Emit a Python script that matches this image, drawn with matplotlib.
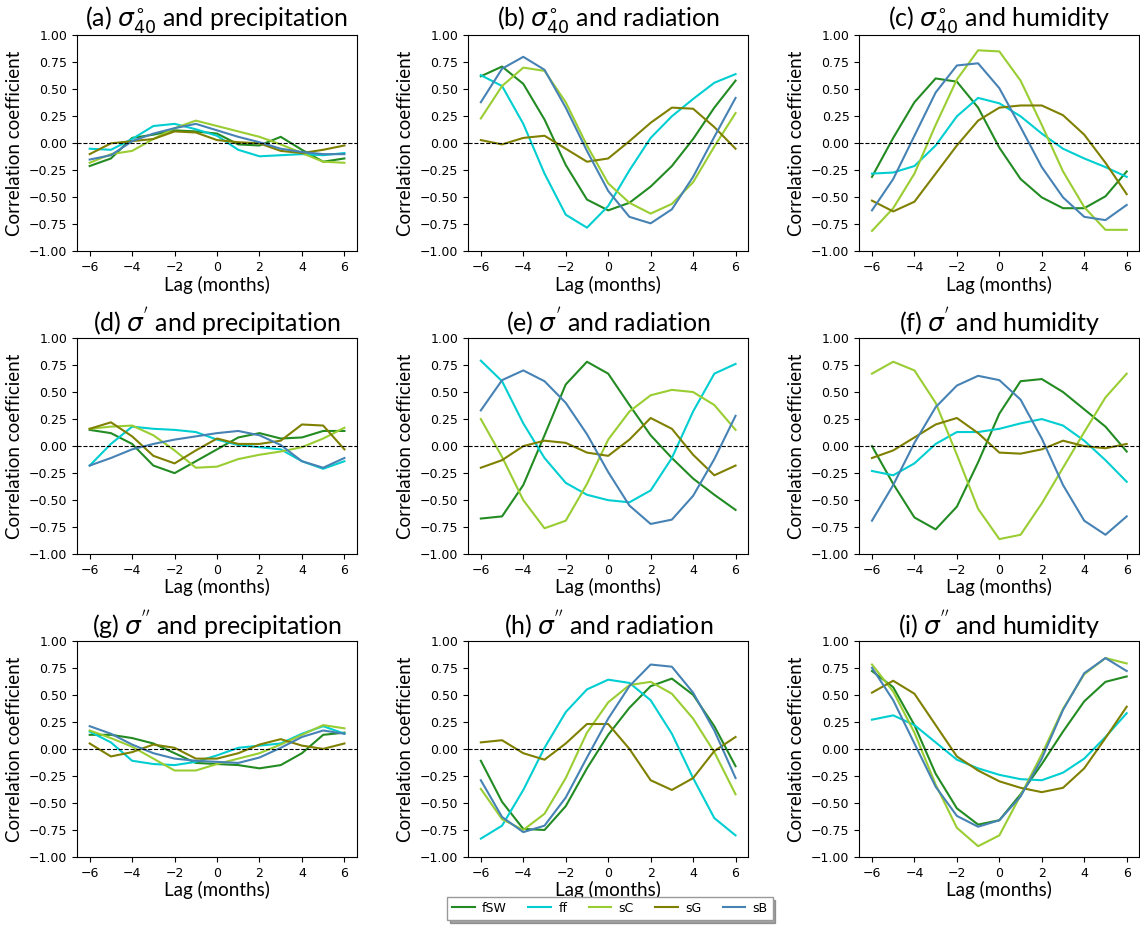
import numpy as np
import matplotlib
matplotlib.use('Agg')
import matplotlib.pyplot as plt

lags = np.arange(-6, 7)
names = ['fSW', 'ff', 'sC', 'sG', 'sB']
colors = ['forestgreen', 'darkturquoise', 'yellowgreen', 'olive', 'steelblue']

titles = [
    r'(a) $\sigma^{\circ}_{40}$ and precipitation',
    r'(b) $\sigma^{\circ}_{40}$ and radiation',
    r'(c) $\sigma^{\circ}_{40}$ and humidity',
    r"(d) $\sigma^{'}$ and precipitation",
    r"(e) $\sigma^{'}$ and radiation",
    r"(f) $\sigma^{'}$ and humidity",
    r"(g) $\sigma^{''}$ and precipitation",
    r"(h) $\sigma^{''}$ and radiation",
    r"(i) $\sigma^{''}$ and humidity",
]

# panel (a)
a_fSW = [-0.21, -0.14, 0.05, 0.08, 0.12, 0.11, 0.09, -0.01, -0.02, 0.06, -0.06, -0.17, -0.14]
a_ff = [-0.05, -0.06, 0.04, 0.16, 0.18, 0.13, 0.07, -0.06, -0.12, -0.11, -0.10, -0.11, -0.09]
a_sC = [-0.18, -0.10, -0.07, 0.04, 0.14, 0.21, 0.16, 0.11, 0.06, -0.01, -0.09, -0.17, -0.18]
a_sG = [-0.10, 0.00, 0.02, 0.04, 0.11, 0.10, 0.03, 0.01, 0.00, -0.07, -0.09, -0.06, -0.02]
a_sB = [-0.15, -0.11, 0.02, 0.09, 0.14, 0.18, 0.12, 0.06, 0.01, -0.05, -0.08, -0.10, -0.10]

# panel (b)
b_fSW = [0.62, 0.71, 0.55, 0.22, -0.20, -0.52, -0.62, -0.55, -0.40, -0.21, 0.04, 0.33, 0.58]
b_ff = [0.63, 0.53, 0.18, -0.28, -0.66, -0.78, -0.58, -0.25, 0.05, 0.25, 0.41, 0.56, 0.64]
b_sC = [0.23, 0.53, 0.70, 0.67, 0.38, -0.02, -0.37, -0.55, -0.65, -0.56, -0.36, -0.03, 0.28]
b_sG = [0.03, -0.01, 0.05, 0.07, -0.05, -0.17, -0.14, 0.02, 0.19, 0.33, 0.32, 0.15, -0.05]
b_sB = [0.38, 0.69, 0.80, 0.68, 0.33, -0.07, -0.44, -0.68, -0.74, -0.61, -0.31, 0.06, 0.42]

# panel (c)
c_fSW = [-0.31, 0.05, 0.38, 0.60, 0.57, 0.33, -0.04, -0.33, -0.50, -0.60, -0.60, -0.49, -0.26]
c_ff = [-0.28, -0.27, -0.21, -0.02, 0.25, 0.42, 0.37, 0.25, 0.09, -0.05, -0.14, -0.22, -0.31]
c_sC = [-0.81, -0.60, -0.28, 0.17, 0.59, 0.86, 0.85, 0.58, 0.17, -0.26, -0.59, -0.80, -0.80]
c_sG = [-0.53, -0.63, -0.54, -0.28, -0.02, 0.21, 0.33, 0.35, 0.35, 0.26, 0.08, -0.18, -0.47]
c_sB = [-0.62, -0.33, 0.07, 0.47, 0.72, 0.74, 0.51, 0.15, -0.22, -0.50, -0.68, -0.71, -0.57]

# panel (d)
d_fSW = [0.15, 0.12, 0.02, -0.18, -0.25, -0.14, -0.03, 0.08, 0.12, 0.07, 0.08, 0.14, 0.14]
d_ff = [-0.18, 0.02, 0.18, 0.16, 0.15, 0.13, 0.06, 0.01, -0.01, -0.03, -0.14, -0.21, -0.14]
d_sC = [0.16, 0.18, 0.19, 0.10, -0.04, -0.20, -0.19, -0.12, -0.08, -0.05, -0.01, 0.07, 0.17]
d_sG = [0.16, 0.22, 0.09, -0.09, -0.16, -0.04, 0.07, 0.02, 0.02, 0.05, 0.20, 0.19, -0.03]
d_sB = [-0.18, -0.11, -0.03, 0.02, 0.06, 0.09, 0.12, 0.14, 0.10, 0.01, -0.14, -0.20, -0.11]

# panel (e)
e_fSW = [-0.67, -0.65, -0.36, 0.10, 0.57, 0.78, 0.67, 0.38, 0.10, -0.11, -0.30, -0.45, -0.59]
e_ff = [0.79, 0.60, 0.21, -0.11, -0.34, -0.45, -0.50, -0.52, -0.41, -0.11, 0.32, 0.67, 0.76]
e_sC = [0.25, -0.10, -0.50, -0.76, -0.69, -0.35, 0.06, 0.32, 0.47, 0.52, 0.50, 0.38, 0.15]
e_sG = [-0.20, -0.13, 0.00, 0.05, 0.03, -0.06, -0.09, 0.06, 0.26, 0.16, -0.08, -0.27, -0.18]
e_sB = [0.33, 0.61, 0.70, 0.60, 0.40, 0.11, -0.24, -0.55, -0.72, -0.68, -0.46, -0.12, 0.28]

# panel (f)
f_fSW = [0.00, -0.35, -0.66, -0.77, -0.56, -0.15, 0.30, 0.60, 0.62, 0.50, 0.34, 0.18, -0.05]
f_ff = [-0.23, -0.27, -0.16, 0.02, 0.13, 0.13, 0.16, 0.21, 0.25, 0.19, 0.05, -0.13, -0.33]
f_sC = [0.67, 0.78, 0.70, 0.40, -0.08, -0.58, -0.86, -0.82, -0.53, -0.20, 0.13, 0.45, 0.67]
f_sG = [-0.11, -0.04, 0.08, 0.20, 0.26, 0.12, -0.06, -0.07, -0.03, 0.05, 0.00, -0.02, 0.02]
f_sB = [-0.69, -0.36, 0.03, 0.36, 0.56, 0.65, 0.61, 0.43, 0.07, -0.36, -0.69, -0.82, -0.65]

# panel (g)
g_fSW = [0.13, 0.13, 0.10, 0.05, -0.04, -0.13, -0.14, -0.15, -0.18, -0.15, -0.04, 0.13, 0.15]
g_ff = [0.16, 0.06, -0.11, -0.14, -0.15, -0.12, -0.06, 0.01, 0.03, 0.05, 0.14, 0.21, 0.14]
g_sC = [0.17, 0.10, 0.02, -0.09, -0.20, -0.20, -0.14, -0.09, -0.04, 0.04, 0.13, 0.22, 0.19]
g_sG = [0.05, -0.07, -0.03, 0.04, 0.01, -0.09, -0.09, -0.04, 0.04, 0.09, 0.03, 0.00, 0.05]
g_sB = [0.21, 0.14, 0.04, -0.04, -0.09, -0.11, -0.12, -0.13, -0.08, 0.01, 0.11, 0.17, 0.14]

# panel (h)
h_fSW = [-0.11, -0.49, -0.74, -0.75, -0.53, -0.18, 0.13, 0.38, 0.58, 0.65, 0.50, 0.21, -0.16]
h_ff = [-0.83, -0.71, -0.38, 0.01, 0.34, 0.55, 0.64, 0.61, 0.45, 0.14, -0.27, -0.64, -0.80]
h_sC = [-0.37, -0.65, -0.75, -0.60, -0.27, 0.15, 0.43, 0.59, 0.62, 0.51, 0.28, -0.03, -0.42]
h_sG = [0.06, 0.08, -0.04, -0.10, 0.05, 0.23, 0.23, 0.00, -0.29, -0.38, -0.27, -0.02, 0.11]
h_sB = [-0.29, -0.63, -0.77, -0.71, -0.45, -0.08, 0.28, 0.58, 0.78, 0.76, 0.52, 0.17, -0.27]

# panel (i)
i_fSW = [0.72, 0.57, 0.22, -0.23, -0.55, -0.70, -0.66, -0.42, -0.14, 0.16, 0.44, 0.62, 0.67]
i_ff = [0.27, 0.31, 0.22, 0.06, -0.10, -0.18, -0.24, -0.28, -0.29, -0.22, -0.09, 0.11, 0.33]
i_sC = [0.78, 0.53, 0.15, -0.33, -0.73, -0.90, -0.80, -0.43, -0.05, 0.37, 0.69, 0.84, 0.79]
i_sG = [0.52, 0.63, 0.51, 0.22, -0.07, -0.20, -0.30, -0.36, -0.40, -0.36, -0.18, 0.10, 0.39]
i_sB = [0.75, 0.45, 0.05, -0.35, -0.62, -0.72, -0.66, -0.44, -0.09, 0.36, 0.70, 0.84, 0.72]

panels = [
    [a_fSW, a_ff, a_sC, a_sG, a_sB],
    [b_fSW, b_ff, b_sC, b_sG, b_sB],
    [c_fSW, c_ff, c_sC, c_sG, c_sB],
    [d_fSW, d_ff, d_sC, d_sG, d_sB],
    [e_fSW, e_ff, e_sC, e_sG, e_sB],
    [f_fSW, f_ff, f_sC, f_sG, f_sB],
    [g_fSW, g_ff, g_sC, g_sG, g_sB],
    [h_fSW, h_ff, h_sC, h_sG, h_sB],
    [i_fSW, i_ff, i_sC, i_sG, i_sB],
]

fig, axes = plt.subplots(3, 3, figsize=(11.4, 9.26), dpi=100)
fig.subplots_adjust(left=0.0675, right=0.9995, bottom=0.0745, top=0.962,
                    wspace=0.396, hspace=0.40)

for k, ax in enumerate(axes.flat):
    for series, name, col in zip(panels[k], names, colors):
        ax.plot(lags, series, color=col, linewidth=1.5, label=name)
    ax.axhline(0, color='black', linestyle='--', linewidth=0.8)
    ax.set_ylim(-1, 1)
    ax.set_xlim(-6.6, 6.6)
    ax.set_yticks(np.arange(-1, 1.01, 0.25))
    ax.set_xticks([-6, -4, -2, 0, 2, 4, 6])
    ax.tick_params(labelsize=9)
    ax.set_title(titles[k], fontsize=18, family='Lato', pad=4)
    ax.set_xlabel('Lag (months)', fontsize=13.5, family='Lato', labelpad=1)
    ax.set_ylabel('Correlation coefficient', fontsize=13.5, family='Lato')

handles, labels = axes[0, 0].get_legend_handles_labels()
fig.legend(handles, labels, loc='lower center', ncol=5, fontsize=9,
           bbox_to_anchor=(0.535, 0.0), fancybox=False, shadow=True,
           edgecolor='0.6', handlelength=1.8, handletextpad=0.6,
           columnspacing=1.7)

fig.savefig('out.png', dpi=100)
